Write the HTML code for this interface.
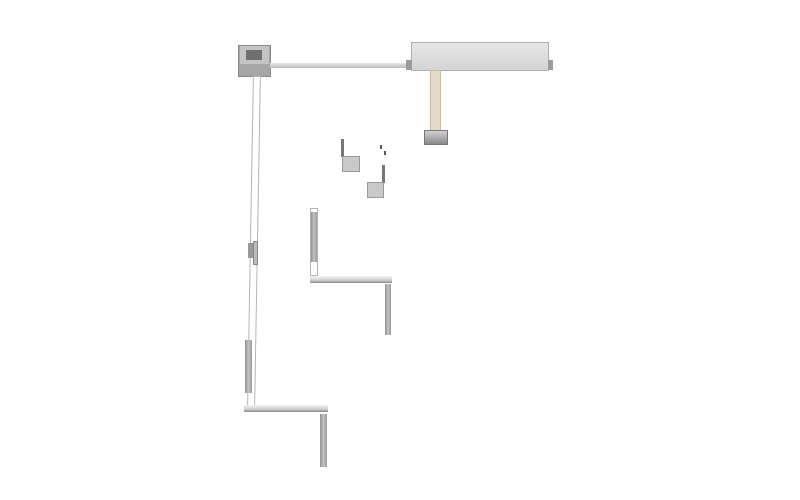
<!DOCTYPE html>
<html><head><style>
body{margin:0;width:800px;height:500px;background:#fff;position:relative;overflow:hidden}
div{position:absolute;box-sizing:border-box}
.g{background:linear-gradient(90deg,#8f8f8f,#c4c4c4,#9a9a9a)}
.w{background:#fff;border:1px solid #b5b5b5}
.h{background:linear-gradient(#f4f4f4,#cfcfcf 60%,#8a8a8a)}
</style></head><body>
<!-- top box -->
<div style="left:238px;top:45px;width:33px;height:32px;background:#a6a6a6;border:1px solid #888"></div>
<div style="left:240px;top:46px;width:29px;height:18px;background:#c4c4c4"></div>
<div style="left:246px;top:50px;width:16px;height:10px;background:#6f6f6f"></div>
<!-- rod -->
<div style="left:270px;top:63px;width:141px;height:5px;background:linear-gradient(#e8e8e8,#bdbdbd)"></div>
<!-- actuator -->
<div style="left:411px;top:42px;width:138px;height:29px;background:linear-gradient(#e6e6e6,#d4d4d4);border:1px solid #b0b0b0"></div>
<div style="left:406px;top:60px;width:6px;height:10px;background:#9a9a9a"></div>
<div style="left:548px;top:60px;width:5px;height:10px;background:#9a9a9a"></div>
<!-- bracket strip -->
<div style="left:430px;top:70px;width:11px;height:62px;background:#e5dac8;border:1px solid #c8bca8"></div>
<div style="left:424px;top:130px;width:24px;height:15px;background:linear-gradient(#d0d0d0,#8a8a8a);border:1px solid #777"></div>
<!-- small brackets -->
<div style="left:341px;top:139px;width:3px;height:18px;background:#777"></div>
<div style="left:342px;top:156px;width:18px;height:16px;background:#c9c9c9;border:1px solid #999"></div>
<div style="left:382px;top:165px;width:3px;height:18px;background:#777"></div>
<div style="left:367px;top:182px;width:17px;height:16px;background:#c9c9c9;border:1px solid #999"></div>
<div style="left:380px;top:145px;width:2px;height:4px;background:#555"></div>
<div style="left:384px;top:151px;width:2px;height:4px;background:#555"></div>
<!-- long vertical rod -->
<div class="w" style="left:250px;top:76px;width:8px;height:330px;transform:skewX(-1deg)"></div>
<div style="left:248px;top:243px;width:5px;height:15px;background:#999"></div>
<div style="left:253px;top:241px;width:5px;height:24px;background:#bbb;border:1px solid #888"></div>
<div class="g" style="left:245px;top:340px;width:7px;height:53px"></div>
<!-- bottom L -->
<div class="h" style="left:244px;top:405px;width:84px;height:7px"></div>
<div class="g" style="left:320px;top:414px;width:7px;height:53px"></div>
<!-- middle L -->
<div class="w" style="left:310px;top:208px;width:8px;height:68px"></div>
<div class="g" style="left:311px;top:212px;width:6px;height:50px"></div>
<div class="h" style="left:310px;top:276px;width:82px;height:7px"></div>
<div class="g" style="left:385px;top:284px;width:6px;height:51px"></div>
</body></html>
